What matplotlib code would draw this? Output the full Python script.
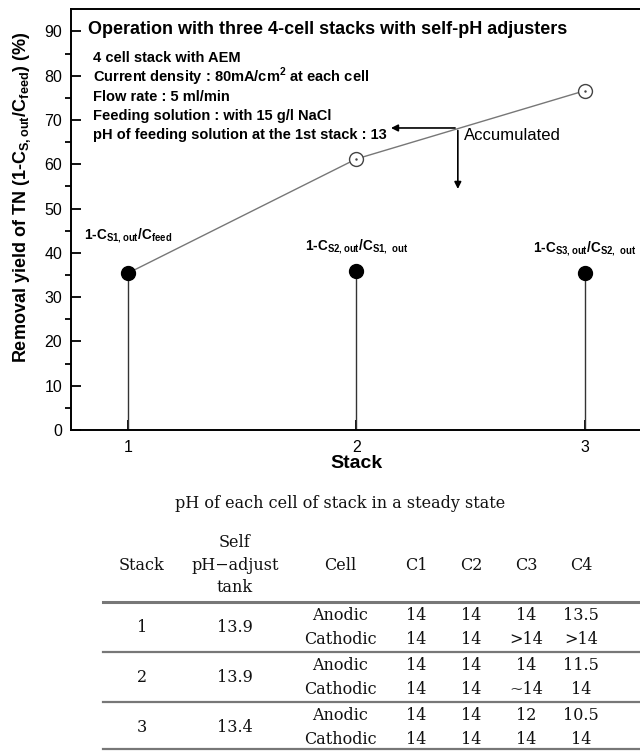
import numpy as np
import matplotlib
matplotlib.use("Agg")
import matplotlib.pyplot as plt

plt.rcParams['font.family'] = ['Liberation Sans', 'DejaVu Sans']
plt.rcParams['mathtext.fontset'] = 'custom'
plt.rcParams['mathtext.rm'] = 'Liberation Sans'
plt.rcParams['mathtext.bf'] = 'Liberation Sans:bold'

# chart data
stacks = [1, 2, 3]
stage_removal = [35.4, 35.9, 35.5]      # 1-C_out/C_in of each stack (filled)
accumulated = [35.4, 61.2, 76.6]        # accumulated removal (open)
stage_labels = [r'1-C$_\mathbf{S1,out}$/C$_\mathbf{feed}$',
                r'1-C$_\mathbf{S2,out}$/C$_\mathbf{S1,\ out}$',
                r'1-C$_\mathbf{S3,out}$/C$_\mathbf{S2,\ out}$']
notes = ['4 cell stack with AEM',
         r'Current density : 80mA/cm$^\mathbf{2}$ at each cell',
         'Flow rate : 5 ml/min',
         'Feeding solution : with 15 g/l NaCl',
         'pH of feeding solution at the 1st stack : 13']

# table data
tank_ph = ['13.9', '13.9', '13.4']
cell_names = ['C1', 'C2', 'C3', 'C4']
anodic = [['14', '14', '14', '13.5'],
          ['14', '14', '14', '11.5'],
          ['14', '14', '12', '10.5']]
cathodic = [['14', '14', '>14', '>14'],
            ['14', '14', '~14', '14'],
            ['14', '14', '14', '14']]

W, H = 640, 751
fig = plt.figure(figsize=(W / 100, H / 100), dpi=100)

# ---- chart ----
x0, y0, aw, ah = 70.7, 430, 571, 420.7   # axes box in pixels
ax = fig.add_axes([x0 / W, (H - y0) / H, aw / W, ah / H])
ax.set_xlim(0.75, 3.25)
ax.set_ylim(0, 95)

ax.vlines(stacks, 0, stage_removal, color='#333333', lw=1.0, zorder=2)
ax.plot(stacks, accumulated, color='#777777', lw=1.0, zorder=2)
ax.plot(stacks, stage_removal, 'o', color='black', ms=10, zorder=4)
ax.plot(stacks[1:], accumulated[1:], 'o', mfc='white', mec='#444444', mew=1.0, ms=10, zorder=4)
ax.plot(stacks[1:], accumulated[1:], '.', color='#444444', ms=1.5, zorder=5)

for x, y, lab in zip(stacks, stage_removal, stage_labels):
    dy = 8.5 if x == 1 else 5.5
    ax.text(x, y + dy, lab, ha='center', va='center', fontsize=9.8, fontweight='bold')

ax.text((88 - x0) / aw, (y0 - 30) / ah, 'Operation with three 4-cell stacks with self-pH adjusters',
        transform=ax.transAxes, fontsize=13, fontweight='bold', va='center')
for i, line in enumerate(notes):
    ax.text((93 - x0) / aw, (y0 - 58 - i * 19.3) / ah, line, transform=ax.transAxes,
            fontsize=10.5, fontweight='bold', va='center')

# accumulated arrows
ax.annotate('', xy=(2.14, 68.2), xytext=(2.445, 68.2),
            arrowprops=dict(arrowstyle='-|>', color='black', lw=1.2, mutation_scale=10))
ax.annotate('', xy=(2.445, 53.8), xytext=(2.445, 68.25),
            arrowprops=dict(arrowstyle='-|>', color='black', lw=1.2, mutation_scale=10))
ax.text(2.47, 66.4, 'Accumulated', fontsize=12, va='center')

ax.set_yticks(np.arange(0, 91, 10))
ax.set_yticks(np.arange(5, 91, 10), minor=True)
ax.set_xticks(stacks)
ax.tick_params(direction='in', labelsize=11.5, width=1.3)
ax.tick_params(axis='y', which='major', length=7, pad=6)
ax.tick_params(axis='y', which='minor', length=4, width=1.3)
ax.tick_params(axis='x', length=7, pad=7)
for s in ax.spines.values():
    s.set_linewidth(1.4)
ax.set_xlabel('Stack', fontsize=14, fontweight='bold', labelpad=0)
ax.set_ylabel(r'Removal yield of TN (1-C$_\mathbf{S,out}$/C$_\mathbf{feed}$) (%)',
              fontsize=13, fontweight='bold')
ax.yaxis.set_label_coords((33 - x0) / aw, (y0 - 197) / ah)

# ---- table ----
tx = fig.add_axes([0, 0, 1, (H - 480) / H])
tx.set_xlim(0, W)
tx.set_ylim(H, 480)
tx.axis('off')
serif = dict(family=['DejaVu Serif'], fontsize=11.5, color='#111111')

col_x = [142, 235, 340, 416, 471, 526, 581]
tx.text(340, 503, 'pH of each cell of stack in a steady state', ha='center', va='center', **serif)
tx.text(col_x[0], 565, 'Stack', ha='center', va='center', **serif)
tx.text(col_x[1], 565, 'Self\npH\u2212adjust\ntank', ha='center', va='center', linespacing=1.45, **serif)
tx.text(col_x[2], 565, 'Cell', ha='center', va='center', **serif)
for cx, name in zip(col_x[3:], cell_names):
    tx.text(cx, 565, name, ha='center', va='center', **serif)

rule_y = [602, 652, 702, 749]
for i, ry in enumerate(rule_y):
    tx.plot([103, W], [ry, ry], color='#777777', lw=2.2 if i == 0 else 1.6)

for i in range(3):
    top = rule_y[i]
    ya, yc = top + 13, top + 37
    tx.text(col_x[0], (ya + yc) / 2, str(stacks[i]), ha='center', va='center', **serif)
    tx.text(col_x[1], (ya + yc) / 2, tank_ph[i], ha='center', va='center', **serif)
    tx.text(col_x[2], ya, 'Anodic', ha='center', va='center', **serif)
    tx.text(col_x[2], yc, 'Cathodic', ha='center', va='center', **serif)
    for j in range(4):
        tx.text(col_x[3 + j], ya, anodic[i][j], ha='center', va='center', **serif)
        tx.text(col_x[3 + j], yc, cathodic[i][j], ha='center', va='center', **serif)

fig.savefig('out.png', dpi=100)
